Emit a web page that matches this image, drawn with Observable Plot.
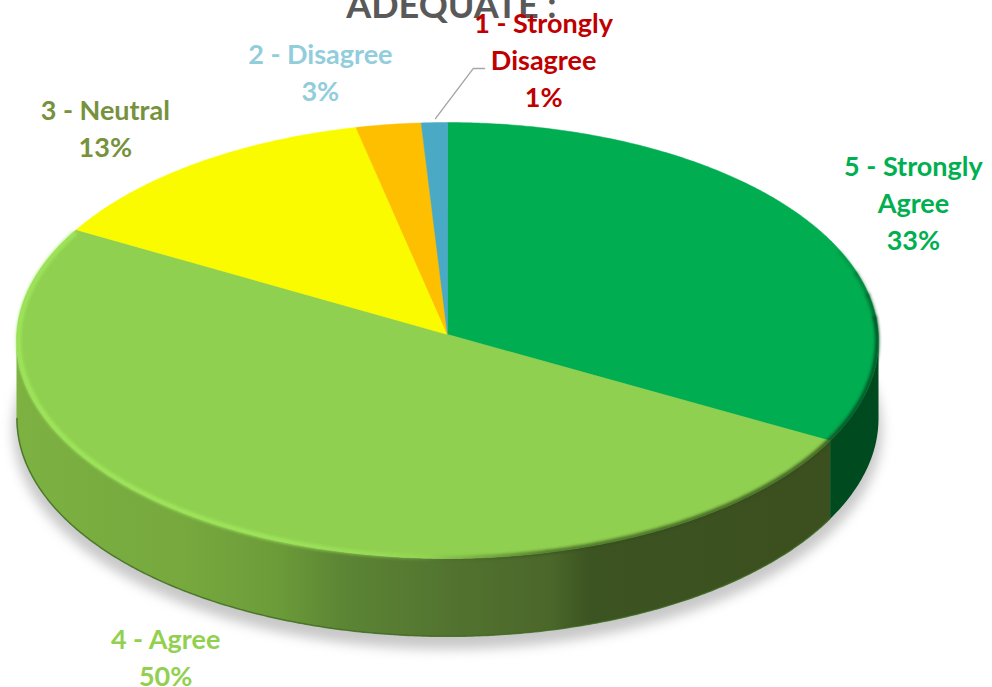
<!DOCTYPE html>
<html>
<head>
<meta charset="utf-8">
<script src="https://cdn.jsdelivr.net/npm/d3@7"></script>
<script src="https://cdn.jsdelivr.net/npm/@observablehq/plot@0.6"></script>
<style>
  html, body { margin: 0; padding: 0; background: #fff; overflow: hidden; }
  svg { display: block; }
</style>
</head>
<body>
<div id="chart"></div>
<script>
// ---- data (clockwise from 12 o'clock) ----
const categories = ["5 - Strongly\nAgree", "4 - Agree", "3 - Neutral", "2 - Disagree", "1 - Strongly\nDisagree"];
const shares = [33, 50.1, 13.4, 2.5, 1.0];
const sliceColors = ["#00AD50", "#90D050", "#FBFB00", "#FDBF00", "#4AA9C5"];
const labelColors = ["#00B050", "#92D050", "#76923C", "#92CDDC", "#C00000"];
const titleText = "ADEQUATE :";

// ---- layout, in pie units (1 = rim radius) ----
const labelX = [1.081, -0.654, -0.794, -0.295, 0.223];
const labelY = [0.640, -1.445, 0.981, 1.238, 1.297];
const leader = [{x: -0.028, y: 1.018}, {x: 0.06, y: 1.248}, {x: 0.086, y: 1.248}];
const apexShift = 0.0275;  // perspective: the apex sits above the ellipse centre
const depth = 0.358;       // wall height

const rad = d => d * Math.PI / 180;
const rimPt = (deg, r = 1, drop = 0) => ({x: r * Math.sin(rad(deg)), y: r * Math.cos(rad(deg)) - drop});
const arc = (a0, a1, r = 1, drop = 0) => {
  const n = Math.max(2, Math.ceil(Math.abs(a1 - a0) * 2));
  return d3.range(n + 1).map(i => rimPt(a0 + (a1 - a0) * i / n, r, drop));
};
// share -> rim angle, with the perspective shift of the apex
const rimAngle = cum => {
  const t = rad(cum * 3.6), k = apexShift;
  const p = Math.atan2(Math.sin(t) * Math.sqrt(1 - k * k), Math.cos(t) + k);
  return ((p * 180 / Math.PI) + 360) % 360;
};
const cums = d3.cumsum(shares);
const edges = [0, ...Array.from(cums, (c, i) => i === cums.length - 1 ? 360 : rimAngle(c))];

const wedges = categories.flatMap((category, i) =>
  [{x: 0, y: apexShift}, ...arc(edges[i], edges[i + 1]), {x: 0, y: apexShift}].map(p => ({...p, category})));
const wall = (a0, a1) => [...arc(a0, a1), ...arc(a1, a0, 1, depth)];
const labelRows = categories.map((c, i) => ({
  text: `${c}\n${Math.round(shares[i])}%`, x: labelX[i], y: labelY[i], color: labelColors[i]
}));

const defs = () => {
  const d = d3.create("svg:defs");
  const grad = (id, stops) => {
    const g = d.append("linearGradient").attr("id", id).attr("gradientUnits", "userSpaceOnUse")
      .attr("x1", 15).attr("x2", 878).attr("y1", 0).attr("y2", 0);
    stops.forEach(([o, c, a = 1]) => g.append("stop").attr("offset", o).attr("stop-color", c).attr("stop-opacity", a));
  };
  grad("wallGrad", [[0, "#7DB142"], [0.2, "#76A83E"], [0.3, "#6C9C39"], [0.38, "#5C8534"], [0.5, "#527430"],
                    [0.62, "#4B672A"], [0.665, "#3C5421"], [1, "#3C4E1E"]]);
  grad("rimLight", [[0, "#A0E85C", 0.85], [0.3, "#A0E85C", 0.85], [0.45, "#A0E85C", 0.35], [0.5, "#A0E85C", 0]]);
  grad("rimDark", [[0.48, "#2F4A18", 0], [0.62, "#2F4A18", 0.7], [0.93, "#2F4A18", 0.85], [0.96, "#004A1F", 0.9], [1, "#004A1F", 0.9]]);
  return d.node();
};

// the dark bevel fades in along the upper right rim
const rimFade = [[66, 72, 0.2], [72, 78, 0.45], [78, 84, 0.7], [84, 210, 1]];

const chart = Plot.plot({
  width: 992,
  height: 687,
  margin: 0,
  x: {domain: [-1, 1], range: [16, 878], axis: null},
  y: {domain: [-1, 1], range: [558, 122], axis: null},
  color: {domain: categories, range: sliceColors},
  style: {fontFamily: "Lato, Carlito, sans-serif", background: "#fff", overflow: "hidden"},
  marks: [
    defs,
    // ground shadow
    Plot.line(arc(0, 360, 1.008, depth + 0.05), {x: "x", y: "y", fill: "#C8C8C8", stroke: "none", imageFilter: "blur(6px)"}),
    // walls
    Plot.line(wall(edges[1], 270), {x: "x", y: "y", fill: "url(#wallGrad)", stroke: "none"}),
    Plot.line(wall(90, edges[1]), {x: "x", y: "y", fill: "#004A1F", stroke: "none"}),
    Plot.line(arc(edges[1], 270, 0.999, depth), {x: "x", y: "y", stroke: "#3F6A22", strokeWidth: 1.5, strokeOpacity: 0.8}),
    // top face
    Plot.line(wedges, {x: "x", y: "y", z: "category", fill: "category", stroke: "category", strokeWidth: 0.5}),
    // bevel along the rim
    rimFade.map(([a0, a1, o]) => Plot.line(arc(a0, a1, 0.997), {x: "x", y: "y", stroke: "url(#rimDark)", strokeOpacity: o, strokeWidth: 4, imageFilter: "blur(1.5px)"})),
    Plot.line(arc(160, edges[2] - 1, 0.995), {x: "x", y: "y", stroke: "url(#rimLight)", strokeWidth: 5, imageFilter: "blur(1.5px)"}),
    // leader
    Plot.line(leader, {x: "x", y: "y", stroke: "#A6A6A6", strokeWidth: 1.4}),
    // title and labels
    Plot.text([titleText], {x: () => 0.009, y: () => 1.531, text: d => d, fill: "#595959", fontSize: 36, fontWeight: 700}),
    Plot.text(labelRows, {x: "x", y: "y", text: "text", fill: d => d.color, fontSize: 27, fontWeight: 700, lineHeight: 1.37})
  ]
});
document.getElementById("chart").appendChild(chart);
</script>
</body>
</html>
